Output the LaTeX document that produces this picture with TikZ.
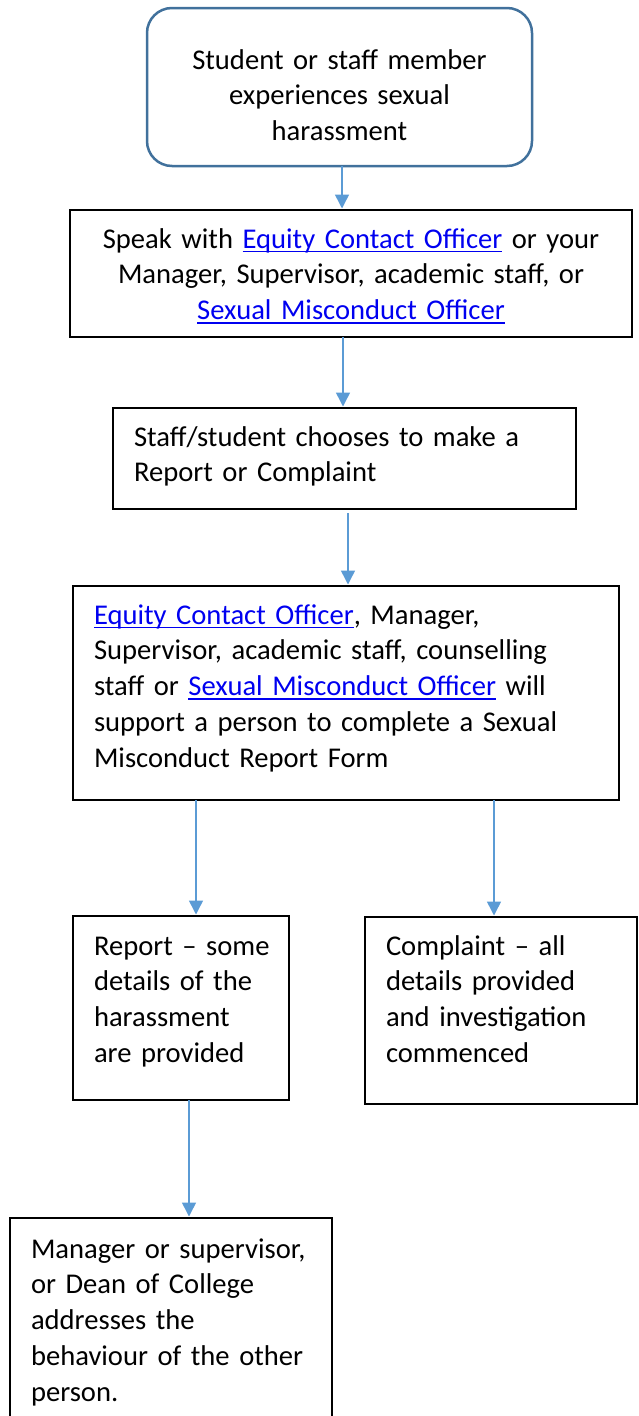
\documentclass[tikz,border=0pt]{standalone}
\usepackage{fontspec}
\setmainfont{Carlito}
\usepackage{xcolor}
\usetikzlibrary{arrows.meta}
\definecolor{flowblue}{HTML}{5B9BD5}
\definecolor{edgeblue}{HTML}{41719C}
\definecolor{linkblue}{HTML}{0000F0}
\newcommand{\bodyfont}{\fontsize{28.6pt}{35.8pt}\selectfont}
\newcommand{\weblink}[1]{\textcolor{linkblue}{\setbox0\hbox{#1}\rlap{\rule[-4.2pt]{\wd0}{1.6pt}}\box0}}
\tikzset{
  stepbox/.style={draw, line width=2pt, anchor=north west, outer sep=0pt,
    inner xsep=21pt, inner ysep=0pt, align=left, font=\bodyfont},
  startbox/.style={stepbox, draw=edgeblue, line width=2.5pt, rounded corners=25pt, align=center},
  flow/.style={draw=flowblue, line width=1.5pt, shorten >=1.5pt,
    -{Triangle[width=14pt,length=14pt]}}
}
\begin{document}
\begin{tikzpicture}[x=1pt,y=-1pt]
\useasboundingbox (0,0) rectangle (638,1416);
\clip (0,0) rectangle (638,1416);
% Boxes
\node[startbox, text width=343pt, text height=61pt, text depth=97pt] (start) at (147,8)
  {Student or staff member\\ experiences sexual\\ harassment};
\node[stepbox, align=center, text width=520pt, text height=38pt, text depth=89pt] (speak) at (70,210)
  {Speak with \weblink{Equity Contact Officer} or your\\ Manager, Supervisor, academic staff, or\\ \weblink{Sexual Misconduct Officer}};
\node[stepbox, text width=421pt, text height=38pt, text depth=63pt] (choose) at (113,408)
  {Staff/student chooses to make a\\ Report or Complaint};
\node[stepbox, text width=504pt, text height=38pt, text depth=176pt] (support) at (73,586)
  {\weblink{Equity Contact Officer}, Manager,\\ Supervisor, academic staff, counselling\\ staff or \weblink{Sexual Misconduct Officer} will\\ support a person to complete a Sexual\\ Misconduct Report Form};
\node[stepbox, text width=174pt, text height=39pt, text depth=145pt] (report) at (73,916)
  {\mbox{Report – some}\\ details of the\\ harassment\\ are provided};
\node[stepbox, text width=230pt, text height=38pt, text depth=149pt] (complaint) at (365,917)
  {Complaint – all\\ details provided\\ and investigation\\ commenced};
\node[stepbox, text width=280pt, text height=40pt, text depth=210pt] (address) at (10,1218)
  {Manager or supervisor,\\ or Dean of College\\ addresses the\\ behaviour of the other\\ person.};
% Arrow columns
\coordinate (colA) at (342,0);
\coordinate (colB) at (343,0);
\coordinate (colC) at (348,0);
\coordinate (colD) at (196,0);
\coordinate (colE) at (494,0);
\coordinate (colF) at (189,0);
% Arrows
\draw[flow] (start.south -| colA) -- (speak.north -| colA);
\draw[flow] (speak.south -| colB) -- (choose.north -| colB);
\draw[flow, shorten <=4pt] (choose.south -| colC) -- (support.north -| colC);
\draw[flow] (support.south -| colD) -- (report.north -| colD);
\draw[flow] (support.south -| colE) -- (complaint.north -| colE);
\draw[flow] (report.south -| colF) -- (address.north -| colF);
\end{tikzpicture}
\end{document}
